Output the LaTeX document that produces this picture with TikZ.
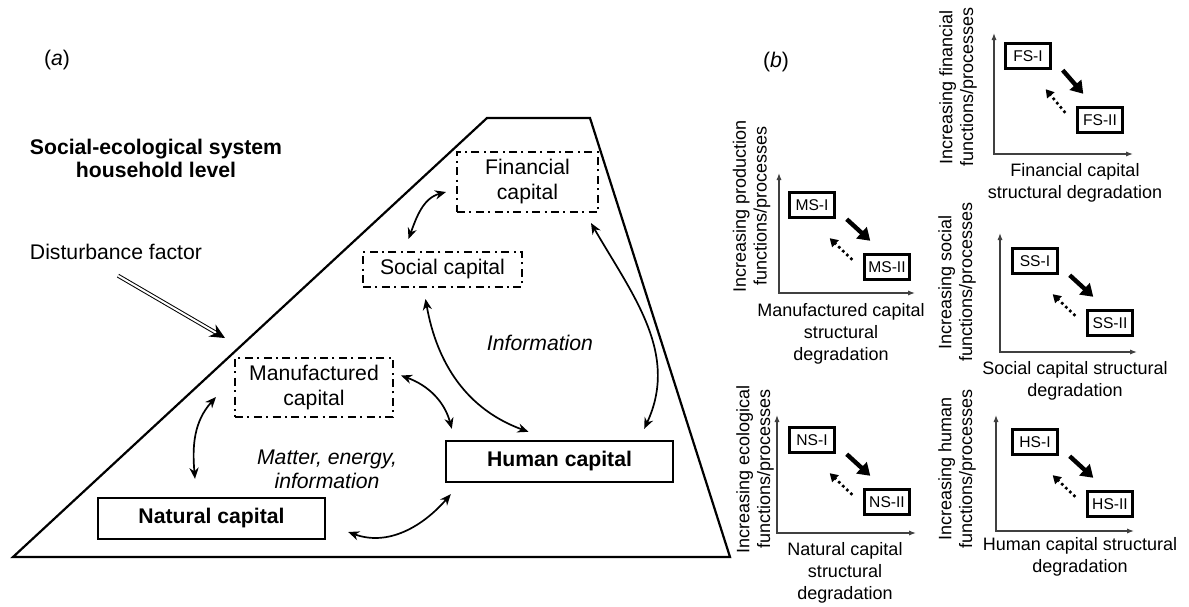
\documentclass[tikz,border=0pt]{standalone}
\usepackage{fontspec}
\setmainfont{Liberation Sans}
\usepackage{tikz}
\usetikzlibrary{arrows, arrows.meta, shapes}

\begin{document}
\begin{tikzpicture}[x=0.5pt, y=0.5pt, >={Stealth[length=5.5pt,width=4.6pt]},
  txt/.style={inner sep=0pt, align=center, font=\fontsize{10.6}{12}\selectfont},
  flow/.style={txt, font=\fontsize{10.6}{12}\selectfont\itshape},
  capbox/.style={draw, line width=1pt, dash pattern=on 4pt off 2.2pt on 1pt off 2.2pt,
    inner sep=0pt, align=center, font=\fontsize{10.6}{12.5}\selectfont},
  basebox/.style={draw, line width=1.2pt, inner sep=0pt, minimum width=113.5pt,
    minimum height=20.5pt, font=\fontsize{10.6}{12.5}\selectfont\bfseries},
  link/.style={<->, line width=0.85pt},
  shock/.style={-{Stealth[length=7.5pt,width=7pt,inset=2.5pt]}, double, double distance=1pt, line width=0.5pt},
  statebox/.style={draw, line width=1.2pt, inner sep=1pt, minimum width=22.5pt,
    minimum height=12.5pt, font=\fontsize{7.8}{9}\selectfont},
  axisline/.style={<->, >={Latex[length=3.5pt,width=2.6pt]}, draw=black!75, line width=0.6pt},
  vlab/.style={rotate=90, inner sep=0pt, align=center, font=\fontsize{9}{10.4}\selectfont},
  hlab/.style={inner sep=0pt, align=center, font=\fontsize{9}{11}\selectfont},
  degrade/.style={-{Triangle[length=6pt,width=7.5pt]}, line width=2.2pt},
  restore/.style={-{Triangle[length=4pt,width=4.6pt]}, line width=1.3pt, dash pattern=on 1.3pt off 1.5pt}]

  \useasboundingbox (0,0) rectangle (1189,-606);

  \draw[line width=1.1pt, line join=miter] (13,-557) -- (487,-118) -- (590,-118) -- (730,-557) -- cycle;

  \node[txt] (pa) at (57,-60) {(\textit{a})};
  \node[txt, font=\fontsize{10.6}{11.5}\selectfont\bfseries] (ses) at (156,-158.5) {Social-ecological system\\household level};
  \node[txt] (dist) at (116,-251.5) {Disturbance factor};
  \coordinate (hit) at (225,-338);

  \node[capbox, minimum width=70.5pt, minimum height=30pt] (fin) at (527.5,-182) {Financial\\capital};
  \node[capbox, minimum width=79.5pt, minimum height=17.5pt] (soc) at (442.5,-269.5) {Social capital};
  \node[capbox, minimum width=79pt, minimum height=29.5pt] (man) at (314,-387.5) {Manufactured\\capital};
  \node[basebox] (nat) at (211.5,-518.5) {Natural capital};
  \node[basebox] (hum) at (559.5,-461.5) {Human capital};
  \node[flow] (info) at (540,-343) {Information};
  \node[flow] (mei) at (327,-469) {Matter, energy,\\information};

  \draw[shock] ([shift={(2,-16)}]dist.south) -- (hit);

  \path
   ([shift={(-34,12)}]soc.north) edge[link, out=70, in=195] ([shift={(-10,-10)}]fin.west)
   ([shift={(-17,-11)}]soc.south) edge[link, out=-80, in=160] ([shift={(-31,8)}]hum.north)
   ([shift={(7,12)}]man.east) edge[link, out=-20, in=105] ([shift={(7,11)}]hum.north west)
   ([shift={(-8,-10)}]fin.south east) edge[link, out=-60, in=65] ([shift={(-30,11)}]hum.north east)
   ([shift={(-18,-9.5)}]man.west) edge[link, out=228, in=95] ([shift={(-16.5,18)}]nat.north)
   ([shift={(22,-13.5)}]nat.east) edge[link, out=-20, in=229] ([shift={(6,-11)}]hum.south west);

  \node[txt] (pb) at (776,-62) {(\textit{b})};

  \coordinate (fstop) at (994,-33);
  \coordinate (fsend) at (1133,-154);
  \draw[axisline] (fstop) |- (fsend);
  \node[statebox] (fs1) at (1028,-56) {FS-I};
  \node[statebox] (fs2) at (1100,-120) {FS-II};
  \draw[degrade] ([shift={(11,-0.5)}]fs1.south east) -- ([shift={(7,12.5)}]fs2.north west);
  \draw[restore] ([shift={(-11,-6.5)}]fs2.north west) -- ([shift={(-6,-19.5)}]fs1.south east);
  \node[vlab] (fsv) at (958,-87) {Increasing financial\\functions/processes};
  \node[hlab] (fsh) at (1075,-183) {Financial capital\\structural degradation};

  \coordinate (mstop) at (779,-173);
  \coordinate (msend) at (915,-293);
  \draw[axisline] (mstop) |- (msend);
  \node[statebox] (ms1) at (812,-205) {MS-I};
  \node[statebox] (ms2) at (887,-267) {MS-II};
  \draw[degrade] ([shift={(11,-0.5)}]ms1.south east) -- ([shift={(7,12.5)}]ms2.north west);
  \draw[restore] ([shift={(-11,-6.5)}]ms2.north west) -- ([shift={(-6,-19.5)}]ms1.south east);
  \node[vlab] (msv) at (751.5,-206) {Increasing production\\functions/processes};
  \node[hlab] (msh) at (841,-334) {Manufactured capital\\structural\\degradation};

  \coordinate (sstop) at (1000,-233);
  \coordinate (ssend) at (1137,-352);
  \draw[axisline] (sstop) |- (ssend);
  \node[statebox] (ss1) at (1035,-261) {SS-I};
  \node[statebox] (ss2) at (1110,-323) {SS-II};
  \draw[degrade] ([shift={(11,-0.5)}]ss1.south east) -- ([shift={(7,12.5)}]ss2.north west);
  \draw[restore] ([shift={(-11,-6.5)}]ss2.north west) -- ([shift={(-6,-19.5)}]ss1.south east);
  \node[vlab] (ssv) at (957,-282) {Increasing social\\functions/processes};
  \node[hlab] (ssh) at (1075,-381) {Social capital structural\\degradation};

  \coordinate (nstop) at (777,-415);
  \coordinate (nsend) at (916,-533);
  \draw[axisline] (nstop) |- (nsend);
  \node[statebox] (ns1) at (812,-440) {NS-I};
  \node[statebox] (ns2) at (887,-502) {NS-II};
  \draw[degrade] ([shift={(11,-0.5)}]ns1.south east) -- ([shift={(7,12.5)}]ns2.north west);
  \draw[restore] ([shift={(-11,-6.5)}]ns2.north west) -- ([shift={(-6,-19.5)}]ns1.south east);
  \node[vlab] (nsv) at (755,-469) {Increasing ecological\\functions/processes};
  \node[hlab] (nsh) at (845,-572.5) {Natural capital\\structural\\degradation};

  \coordinate (hstop) at (996,-415);
  \coordinate (hsend) at (1134,-531);
  \draw[axisline] (hstop) |- (hsend);
  \node[statebox] (hs1) at (1035,-442) {HS-I};
  \node[statebox] (hs2) at (1110,-504) {HS-II};
  \draw[degrade] ([shift={(11,-0.5)}]hs1.south east) -- ([shift={(7,12.5)}]hs2.north west);
  \draw[restore] ([shift={(-11,-6.5)}]hs2.north west) -- ([shift={(-6,-19.5)}]hs1.south east);
  \node[vlab] (hsv) at (957,-469) {Increasing human\\functions/processes};
  \node[hlab] (hsh) at (1080,-556.5) {Human capital structural\\degradation};
\end{tikzpicture}
\end{document}
